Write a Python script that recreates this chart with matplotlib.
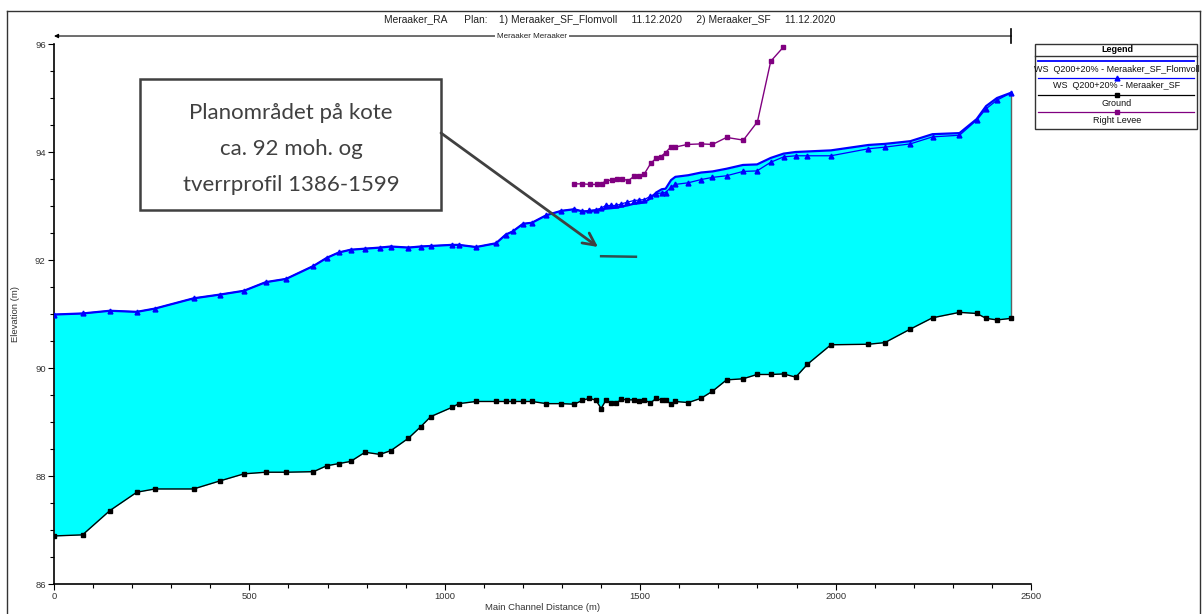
import matplotlib
matplotlib.use("Agg")
import matplotlib.pyplot as plt
from matplotlib.lines import Line2D
from matplotlib.patches import Rectangle, FancyArrowPatch
from matplotlib.ticker import MultipleLocator

# Profile data (main channel distance in m, elevations in m)
stations = [0, 73, 143, 212, 258, 357, 425, 486, 542, 594, 664, 698, 729, 759,
            796, 834, 862, 907, 938, 964, 1018, 1036, 1080, 1131, 1156, 1174,
            1200, 1223, 1260, 1298, 1331, 1352, 1370, 1387, 1400, 1412, 1426,
            1439, 1452, 1467, 1483, 1497, 1511, 1526, 1541, 1555, 1565, 1579,
            1590, 1623, 1656, 1685, 1721, 1763, 1799, 1834, 1867, 1898, 1928,
            1988, 2084, 2126, 2191, 2248, 2317, 2361, 2385, 2413, 2450]

ground = [86.89, 86.91, 87.36, 87.70, 87.76, 87.76, 87.91, 88.04, 88.07, 88.07,
          88.08, 88.19, 88.23, 88.27, 88.44, 88.40, 88.47, 88.70, 88.91, 89.10,
          89.27, 89.34, 89.38, 89.38, 89.38, 89.38, 89.38, 89.38, 89.34, 89.34,
          89.33, 89.40, 89.44, 89.40, 89.25, 89.40, 89.36, 89.35, 89.42, 89.41,
          89.41, 89.38, 89.41, 89.35, 89.44, 89.40, 89.41, 89.33, 89.38, 89.36,
          89.44, 89.57, 89.78, 89.80, 89.88, 89.88, 89.89, 89.83, 90.07, 90.43,
          90.44, 90.47, 90.72, 90.93, 91.03, 91.01, 90.92, 90.89, 90.92]

ws_flomvoll = [90.99, 91.01, 91.06, 91.04, 91.10, 91.29, 91.36, 91.43, 91.59,
               91.65, 91.89, 92.04, 92.14, 92.19, 92.21, 92.23, 92.25, 92.23,
               92.25, 92.26, 92.28, 92.28, 92.24, 92.31, 92.47, 92.53, 92.67,
               92.69, 92.83, 92.91, 92.94, 92.90, 92.90, 92.92, 92.94, 92.95,
               92.96, 92.97, 92.99, 93.01, 93.04, 93.05, 93.07, 93.14, 93.25,
               93.31, 93.32, 93.48, 93.54, 93.57, 93.62, 93.64, 93.69, 93.76,
               93.77, 93.89, 93.97, 94.00, 94.01, 94.03, 94.13, 94.15, 94.20,
               94.33, 94.35, 94.61, 94.85, 95.00, 95.10]

ws_sf = [90.99, 91.01, 91.06, 91.04, 91.10, 91.29, 91.36, 91.43, 91.59, 91.65,
         91.89, 92.04, 92.14, 92.19, 92.21, 92.23, 92.25, 92.23, 92.25, 92.26,
         92.28, 92.28, 92.24, 92.31, 92.47, 92.53, 92.67, 92.69, 92.83, 92.91,
         92.94, 92.90, 92.92, 92.93, 92.96, 93.01, 93.01, 93.01, 93.04, 93.07,
         93.10, 93.11, 93.12, 93.18, 93.23, 93.24, 93.25, 93.35, 93.40, 93.43,
         93.49, 93.53, 93.56, 93.64, 93.65, 93.81, 93.91, 93.93, 93.93, 93.93,
         94.06, 94.09, 94.15, 94.28, 94.31, 94.59, 94.80, 94.96, 95.10]

levee_x = [1331, 1352, 1372, 1389, 1401, 1413, 1427, 1440, 1454, 1470, 1484,
           1498, 1511, 1527, 1540, 1552, 1565, 1578, 1589, 1621, 1656, 1685,
           1721, 1764, 1800, 1834, 1866]
levee_y = [93.41, 93.41, 93.40, 93.40, 93.41, 93.47, 93.48, 93.50, 93.50,
           93.47, 93.55, 93.56, 93.60, 93.79, 93.88, 93.91, 93.99, 94.09,
           94.09, 94.14, 94.15, 94.14, 94.27, 94.22, 94.56, 95.68, 95.94]

reach_end = 2450
marker_line = ([1400, 1489], [92.07, 92.06])

title_text = ("Meraaker_RA      Plan:    1) Meraaker_SF_Flomvoll     11.12.2020"
              "     2) Meraaker_SF     11.12.2020")
reach_label = "Meraaker Meraaker"
legend_labels = ["WS  Q200+20% - Meraaker_SF_Flomvoll",
                 "WS  Q200+20% - Meraaker_SF", "Ground", "Right Levee"]
note_lines = ["Planområdet på kote", "ca. 92 moh. og", "tverrprofil 1386-1599"]

W, H = 1202, 614
fig = plt.figure(figsize=(W / 100, H / 100), dpi=100)
plt.rcParams['font.family'] = ['Liberation Sans', 'DejaVu Sans']


def fx(px):
    return px / W


def fy(py):
    return 1 - py / H


ax = fig.add_axes([fx(54), fy(584), fx(1031) - fx(54), fy(44) - fy(584)])
ax.set_xlim(0, 2500)
ax.set_ylim(86, 96)

blue = "#0000FF"
purple = "#800080"

ax.fill_between(stations, ground, ws_flomvoll, color="#00FFFF", lw=0, zorder=1)
ax.plot([reach_end, reach_end], [ground[-1], ws_flomvoll[-1]],
        color="#606060", lw=1, zorder=2)
ax.plot(stations, ws_flomvoll, color=blue, lw=1.6, zorder=3)
ax.plot(stations, ws_sf, color=blue, lw=0.9, marker="^", ms=3.5, zorder=4)
ax.plot(stations, ground, color="black", lw=1.0, marker="s", ms=3, zorder=4)
ax.plot(levee_x, levee_y, color=purple, lw=1.0, marker="s", ms=3.5, zorder=4)

# short level mark
ax.plot(marker_line[0], marker_line[1], color="#2F4F4F", lw=1.8, zorder=5)

# Axes styling
for s in ["top", "right"]:
    ax.spines[s].set_visible(False)
for s in ["left", "bottom"]:
    ax.spines[s].set_linewidth(1.2)
ax.xaxis.set_major_locator(MultipleLocator(500))
ax.xaxis.set_minor_locator(MultipleLocator(100))
ax.yaxis.set_major_locator(MultipleLocator(2))
ax.yaxis.set_minor_locator(MultipleLocator(0.5))
ax.tick_params(which="major", length=4, width=0.8, labelsize=6.8,
               labelcolor="#333333", pad=2)
ax.tick_params(which="minor", length=3, width=0.8)
ax.set_xlabel("Main Channel Distance (m)", fontsize=6.8, color="#333333")
ax.set_ylabel("Elevation (m)", fontsize=6.8, color="#333333")
ax.xaxis.set_label_coords(0.5, -(608 - 584) / 540, transform=ax.transAxes)
ax.yaxis.set_label_coords(-(54 - 15) / 977, 0.5, transform=ax.transAxes)
ax.xaxis.label.set_va("center")
ax.yaxis.label.set_va("center")

# Reach line above the plot
ry = 96.148
ax.annotate("", xy=(0, ry), xytext=(reach_end, ry), annotation_clip=False,
            arrowprops=dict(arrowstyle="-|>", color="black", lw=0.8,
                            mutation_scale=6, shrinkA=0, shrinkB=0))
ax.plot([reach_end, reach_end], [ry - 0.13, ry + 0.13], color="black",
        lw=1.2, clip_on=False)
ax.text(1223, ry, reach_label, fontsize=5.8, ha="center", va="center",
        color="#222222", bbox=dict(facecolor="white", edgecolor="none",
                                   pad=1.5), clip_on=False)

# Title
fig.text(fx(610), fy(20), title_text, fontsize=7.4, ha="center", va="center",
         color="#222222")

# Outer frame
frame_kw = dict(color="#333333", lw=1.0, transform=fig.transFigure)
fig.add_artist(Line2D([fx(7), fx(1200)], [fy(11), fy(11)], **frame_kw))
fig.add_artist(Line2D([fx(7), fx(7)], [fy(11), 0], **frame_kw))
fig.add_artist(Line2D([fx(1200), fx(1200)], [fy(11), 0], **frame_kw))

# Legend box
lx0, lx1, ly0, ly1 = 1035, 1197, 44, 129
fig.add_artist(Rectangle((fx(lx0), fy(ly1)), fx(lx1) - fx(lx0),
                         fy(ly0) - fy(ly1), transform=fig.transFigure,
                         facecolor="white", edgecolor="#333333", lw=1.0))
fig.add_artist(Line2D([fx(lx0), fx(lx1)], [fy(56), fy(56)],
                      color="#333333", lw=1.0, transform=fig.transFigure))
fig.text(fx(1117), fy(50), "Legend", fontsize=6.5, fontweight="bold",
         ha="center", va="center")
legend_styles = [dict(color=blue, lw=1.3, marker=None),
                 dict(color=blue, lw=0.9, marker="^", ms=3.5),
                 dict(color="black", lw=0.9, marker="s", ms=3),
                 dict(color=purple, lw=0.9, marker="s", ms=3.5)]
line_ys = [61, 78, 95, 111.5]
text_ys = [69.5, 86, 103, 120.5]
for lab, sty, ly, ty in zip(legend_labels, legend_styles, line_ys, text_ys):
    fig.add_artist(Line2D([fx(1038), fx(1194)], [fy(ly), fy(ly)],
                          transform=fig.transFigure, color=sty["color"],
                          lw=sty["lw"]))
    if sty.get("marker"):
        fig.add_artist(Line2D([fx(1117)], [fy(ly)], transform=fig.transFigure,
                              color=sty["color"], marker=sty["marker"],
                              ms=sty["ms"], lw=0))
    fig.text(fx(1117), fy(ty), lab, fontsize=6.5, ha="center", va="center",
             color="#111111")

# Note box with arrow
grey = "#404040"
fig.add_artist(Rectangle((fx(140), fy(210)), fx(441) - fx(140),
                         fy(79) - fy(210), transform=fig.transFigure,
                         facecolor="white", edgecolor=grey, lw=1.8, zorder=6))
for line, py in zip(note_lines, [113, 149, 185]):
    t = fig.text(fx(291), fy(py), line, fontsize=16, ha="center",
                 va="center", color=grey, family=["Lato", "DejaVu Sans"])
    t.set_zorder(7)
fig.add_artist(FancyArrowPatch((fx(441), fy(133)), (fx(598), fy(247)),
                               transform=fig.transFigure, arrowstyle="->",
                               mutation_scale=22, color=grey, lw=2.0,
                               shrinkA=0, shrinkB=0, zorder=6))

fig.savefig("out.png", dpi=100)
